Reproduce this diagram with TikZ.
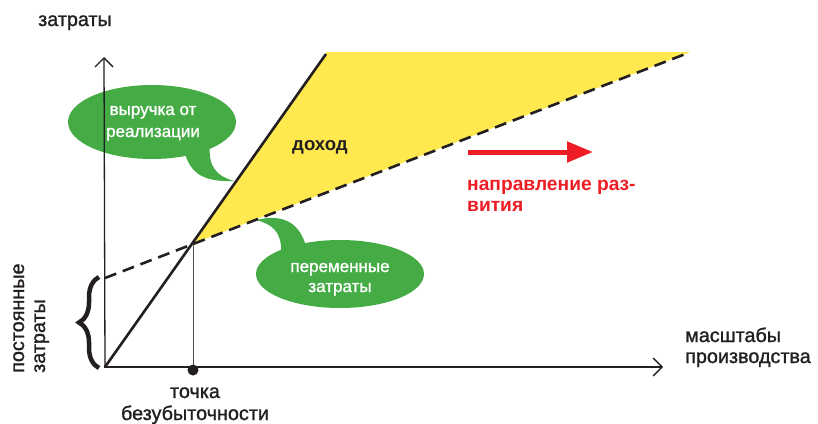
\documentclass[tikz,border=0pt]{standalone}
\usepackage{fontspec}
\setmainfont{Liberation Sans}
\newfontfamily\medfont[FakeBold=1.2]{Liberation Sans}
\usetikzlibrary{arrows.meta,decorations.pathreplacing}
\definecolor{yel}{HTML}{FFE94F}
\definecolor{grn}{HTML}{45AB45}
\definecolor{rd}{HTML}{EE1D25}
\definecolor{ink}{HTML}{231F20}
\tikzset{
  lab/.style={inner sep=0pt, text=ink, font=\medfont\fontsize{19.8}{22}\selectfont},
  bublab/.style={inner sep=0pt, text=white, font=\medfont\fontsize{17}{20}\selectfont},
  redlab/.style={inner sep=0pt, text=rd, font=\bfseries\fontsize{19.2}{21}\selectfont},
  boldlab/.style={inner sep=0pt, text=ink, font=\bfseries\fontsize{18.6}{21}\selectfont},
  axis/.style={draw=ink, line width=1.3pt, -{Straight Barb[length=9pt,width=18pt,line width=1.3pt]}},
  revline/.style={draw=ink, line width=2.6pt},
  costline/.style={draw=ink, line width=2.6pt, dash pattern=on 12pt off 7pt},
  bubble/.style={fill=grn, draw=none},
}
\begin{document}
\begin{tikzpicture}[x=1pt,y=-1pt]
\useasboundingbox (0,0) rectangle (818,423);
% key points
\coordinate (O) at (105,367);
\coordinate (R) at (326,54);
\coordinate (F) at (105,278);
\coordinate (D) at (688,53);
\coordinate (T) at (690,52);
\coordinate (BE) at (193,243.5);
\coordinate (Ytop) at (104,57);
\coordinate (Xend) at (663,367);
\coordinate (BEfoot) at (193,367);
% yellow area
\fill[yel] (BE) -- (R) -- (326,52) -- (T) -- (D) -- cycle;
% green bubbles
\fill[bubble] (152,122) ellipse [x radius=84, y radius=37];
\fill[bubble] (184,150) .. controls (190,175) and (205,182) .. (234,181)
   .. controls (216,176) and (208,166) .. (210,145) -- cycle;
\fill[bubble] (340,274) ellipse [x radius=84, y radius=34];
\fill[bubble] (281,252) .. controls (282,232) and (272,224) .. (256,220)
   .. controls (285,213) and (301,224) .. (307,250) -- cycle;
% break-even vertical
\draw[draw=ink!80, line width=0.8pt] (BE) -- (BEfoot);
% axes
\draw[axis] (O) -- (Ytop);
\draw[axis] (104,367) -- (Xend);
% lines
\draw[revline] (O) -- (R);
\draw[costline] (F) -- (D);
% break-even dot
\fill[ink] (193,370) circle [radius=5.5];
% brace
\draw[ink, line width=4.5pt, decorate, decoration={brace, amplitude=20pt, aspect=0.5}] (99,368) -- (99,277);
% red arrow
\draw[rd, line width=5pt, -{Triangle[length=26pt,width=20pt]}] (468,152) -- (593,152);
% texts
\node[lab, anchor=base west] (ylab) at (38,26) {затраты};
\node[lab, anchor=base west] (xlab1) at (685,342) {масштабы};
\node[lab, anchor=base west] (xlab2) at (685,363) {производства};
\node[lab, anchor=base] (be1) at (195,398) {точка};
\node[lab, anchor=base] (be2) at (195,420) {безубыточности};
\node[lab, anchor=base west, rotate=90] (fc1) at (24,373) {постоянные};
\node[lab, anchor=base west, rotate=90] (fc2) at (45,373) {затраты};
\node[bublab, anchor=base] (b1a) at (153,115) {выручка от};
\node[bublab, anchor=base] (b1b) at (153,137) {реализации};
\node[bublab, anchor=base] (b2a) at (340,272) {переменные};
\node[bublab, anchor=base] (b2b) at (340,292) {затраты};
\node[boldlab, anchor=base west] (inc) at (292,150) {доход};
\node[redlab, anchor=base west] (dir1) at (467,190) {направление раз-};
\node[redlab, anchor=base west] (dir2) at (467,211) {вития};
\end{tikzpicture}
\end{document}
